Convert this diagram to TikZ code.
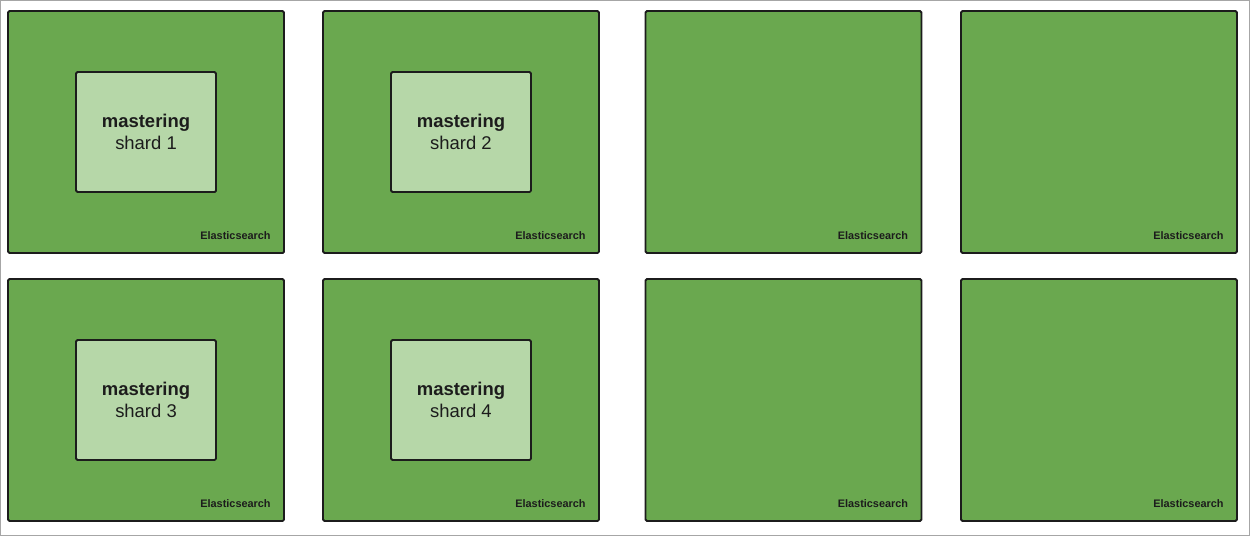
\documentclass[tikz,border=0pt]{standalone}
\usepackage{fontspec}
\setmainfont{Liberation Sans}
\usepackage{tikz}
\usetikzlibrary{positioning, calc}
\definecolor{vertserveur}{HTML}{6AA84F}
\definecolor{vertshard}{HTML}{B6D7A8}
\definecolor{bordure}{HTML}{1C1C1C}

\begin{document}
\begin{tikzpicture}[xscale=1,yscale=1]
\tikzstyle{serveur}=[draw=bordure,fill=vertserveur,line width=1.1pt,rounded corners=0.8pt,minimum width=5.52cm,minimum height=4.84cm,inner sep=0pt]
\tikzstyle{shard}=[draw=bordure,fill=vertshard,line width=1.1pt,rounded corners=0.8pt,minimum width=2.8cm,minimum height=2.4cm,align=center,text=bordure,font=\fontsize{10.5}{12.5}\selectfont]
\tikzstyle{etiquette}=[anchor=base east,inner sep=0pt,text=bordure,font=\fontsize{6.2}{7}\selectfont\bfseries]
\def\ColonneA{2.92}
\def\ColonneB{9.22}
\def\ColonneC{15.67}
\def\ColonneD{21.98}
\def\LigneA{8.08}
\def\LigneB{2.72}
% cadre
\draw[gray!70,line width=0.6pt] (0.01,0.01) rectangle (24.99,10.71);
\useasboundingbox (0,0) rectangle (25,10.72);
% noeuds
\node[serveur] (S1) at (\ColonneA,\LigneA) {};
\node[serveur] (S2) at (\ColonneB,\LigneA) {};
\node[serveur] (S3) at (\ColonneC,\LigneA) {};
\node[serveur] (S4) at (\ColonneD,\LigneA) {};
\node[serveur] (S5) at (\ColonneA,\LigneB) {};
\node[serveur] (S6) at (\ColonneB,\LigneB) {};
\node[serveur] (S7) at (\ColonneC,\LigneB) {};
\node[serveur] (S8) at (\ColonneD,\LigneB) {};
\node[shard] (Sh1) at (S1.center) {\textbf{mastering}\\shard 1};
\node[shard] (Sh2) at (S2.center) {\textbf{mastering}\\shard 2};
\node[shard] (Sh3) at (S5.center) {\textbf{mastering}\\shard 3};
\node[shard] (Sh4) at (S6.center) {\textbf{mastering}\\shard 4};
\node[etiquette] (E1) at ($(S1.south east)+(-0.28,0.28)$) {Elasticsearch};
\node[etiquette] (E2) at ($(S2.south east)+(-0.28,0.28)$) {Elasticsearch};
\node[etiquette] (E3) at ($(S3.south east)+(-0.28,0.28)$) {Elasticsearch};
\node[etiquette] (E4) at ($(S4.south east)+(-0.28,0.28)$) {Elasticsearch};
\node[etiquette] (E5) at ($(S5.south east)+(-0.28,0.28)$) {Elasticsearch};
\node[etiquette] (E6) at ($(S6.south east)+(-0.28,0.28)$) {Elasticsearch};
\node[etiquette] (E7) at ($(S7.south east)+(-0.28,0.28)$) {Elasticsearch};
\node[etiquette] (E8) at ($(S8.south east)+(-0.28,0.28)$) {Elasticsearch};
\end{tikzpicture}
\end{document}
